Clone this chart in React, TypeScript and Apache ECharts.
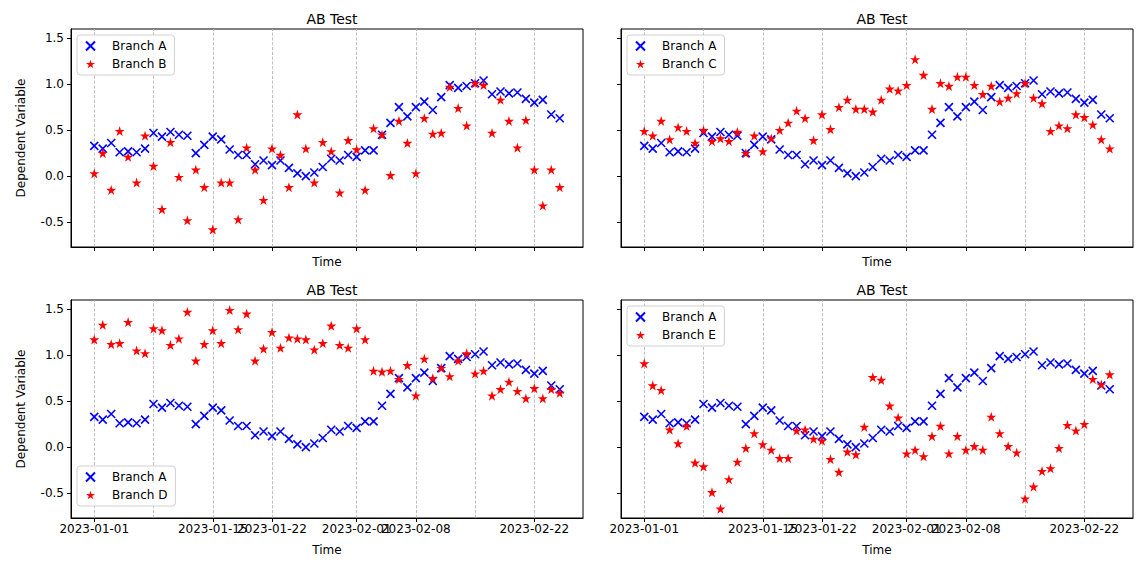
import { useEffect, useRef } from "react";
import * as echarts from "echarts";

const DAYS = Array.from({ length: 56 }, (_, i) => i); // 2023-01-01 .. 2023-02-25
const TICK_DAYS = [0, 7, 14, 21, 31, 38, 45, 52];
const TICK_LABELS = ["2023-01-01", "2023-01-08", "2023-01-15", "2023-01-22", "2023-02-01", "2023-02-08", "2023-02-15", "2023-02-22"];
const Y_TICKS = [-0.5, 0, 0.5, 1, 1.5];

const branchA = [0.33, 0.30, 0.36, 0.26, 0.27, 0.26, 0.30, 0.47, 0.43, 0.48, 0.45, 0.44, 0.25, 0.34, 0.43, 0.40, 0.29, 0.23, 0.23, 0.13, 0.17, 0.12, 0.17, 0.09, 0.03, 0.00, 0.04, 0.10,
  0.19, 0.17, 0.23, 0.21, 0.28, 0.28, 0.45, 0.58, 0.75, 0.65, 0.75, 0.81, 0.72, 0.86, 0.99, 0.96, 0.98, 1.01, 1.04, 0.89, 0.92, 0.90, 0.91, 0.84, 0.80, 0.83, 0.67, 0.63];
const branchB = [0.03, 0.25, -0.15, 0.49, 0.21, -0.07, 0.44, 0.11, -0.36, 0.37, -0.01, -0.48, 0.07, -0.12, -0.58, -0.07, -0.07, -0.47, 0.31, 0.07, -0.26, 0.30, 0.23, -0.12, 0.67, 0.30, -0.07, 0.37,
  0.27, -0.18, 0.39, 0.29, -0.15, 0.52, 0.45, 0.01, 0.60, 0.36, 0.03, 0.63, 0.46, 0.47, 0.97, 0.74, 0.55, 1.01, 0.99, 0.47, 0.83, 0.60, 0.31, 0.61, 0.07, -0.32, 0.07, -0.12];
const branchC = [0.49, 0.44, 0.60, 0.40, 0.53, 0.49, 0.36, 0.50, 0.38, 0.41, 0.38, 0.48, 0.25, 0.44, 0.27, 0.41, 0.50, 0.58, 0.71, 0.63, 0.39, 0.67, 0.51, 0.75, 0.83, 0.73, 0.73, 0.70,
  0.83, 0.95, 0.93, 0.99, 1.27, 1.10, 0.73, 1.01, 0.98, 1.08, 1.08, 0.99, 0.89, 0.98, 0.81, 0.85, 0.90, 1.01, 0.85, 0.79, 0.49, 0.55, 0.52, 0.67, 0.64, 0.56, 0.40, 0.30];
const branchD = [1.17, 1.33, 1.12, 1.13, 1.36, 1.05, 1.02, 1.29, 1.27, 1.11, 1.18, 1.47, 0.94, 1.12, 1.27, 1.13, 1.49, 1.28, 1.45, 0.94, 1.07, 1.25, 1.08, 1.19, 1.18, 1.17, 1.06, 1.13,
  1.32, 1.11, 1.08, 1.29, 1.17, 0.83, 0.82, 0.83, 0.74, 0.89, 0.56, 0.96, 0.75, 0.86, 0.77, 0.94, 1.02, 0.80, 0.83, 0.56, 0.63, 0.71, 0.61, 0.53, 0.64, 0.53, 0.63, 0.59];
const branchE = [0.91, 0.67, 0.62, 0.19, 0.04, 0.23, -0.17, -0.21, -0.49, -0.67, -0.35, -0.16, -0.01, 0.15, 0.03, -0.03, -0.12, -0.12, 0.18, 0.19, 0.09, 0.07, -0.13, -0.27, -0.05, -0.08, 0.22, 0.76,
  0.73, 0.45, 0.32, -0.07, -0.03, -0.10, 0.12, 0.23, -0.07, 0.12, -0.03, 0.01, -0.03, 0.33, 0.15, 0.01, -0.06, -0.56, -0.43, -0.26, -0.23, -0.01, 0.24, 0.18, 0.25, 0.74, 0.68, 0.79];

const PANELS = [
  { name: "Branch B", data: branchB, left: 71, top: 29, legendBottom: false, showX: false, showY: true },
  { name: "Branch C", data: branchC, left: 621, top: 29, legendBottom: false, showX: false, showY: false },
  { name: "Branch D", data: branchD, left: 71, top: 300, legendBottom: true, showX: true, showY: true },
  { name: "Branch E", data: branchE, left: 621, top: 300, legendBottom: false, showX: true, showY: false },
];

const W = 512;
const H = 218;
const FONT = "DejaVu Sans";
const X_SYMBOL = "path://M0,0L10,10M10,0L0,10";
const STAR = "path://M50,0L61.2,34.5L97.6,34.5L68.2,55.9L79.4,90.5L50,69.1L20.6,90.5L31.8,55.9L2.4,34.5L38.8,34.5Z";

export default function App() {
  const ref = useRef<HTMLDivElement>(null);

  useEffect(() => {
    if (!ref.current) return;
    const chart = echarts.init(ref.current, null, { renderer: "svg" });
    const pair = (arr: number[]) => DAYS.map((d, i) => [d, arr[i]]);

    chart.setOption({
      animation: false,
      textStyle: { fontFamily: FONT },
      title: PANELS.map((p) => ({
        text: "AB Test",
        left: p.left + W / 2,
        top: p.top - 22,
        textAlign: "center",
        textStyle: { fontFamily: FONT, fontSize: 14, fontWeight: "normal", color: "#000" },
      })),
      legend: PANELS.map((p, i) => ({
        id: "lg" + i,
        data: ["Branch A", p.name].map((n) => ({ name: n })),
        left: p.left + 6,
        ...(p.legendBottom ? { top: p.top + H - 52 } : { top: p.top + 6 }),
        orient: "vertical",
        itemGap: 6,
        itemWidth: 9,
        itemHeight: 9,
        padding: [5, 8, 5, 8],
        borderColor: "#d0d0d0",
        borderWidth: 1,
        borderRadius: 3,
        backgroundColor: "rgba(255,255,255,0.8)",
        textStyle: { fontFamily: FONT, fontSize: 12, color: "#000", padding: [0, 0, 0, 12] },
        selectedMode: false,
      })),
      grid: PANELS.map((p) => ({
        left: p.left, top: p.top, width: W, height: H,
        show: true, borderColor: "#000", borderWidth: 1, backgroundColor: "transparent",
      })),
      xAxis: PANELS.map((p, i) => ({
        type: "value",
        gridIndex: i,
        min: -2.75,
        max: 57.75,
        name: "Time",
        nameLocation: "middle",
        nameGap: p.showX ? 26 : 9,
        nameTextStyle: { fontFamily: FONT, fontSize: 12, color: "#000" },
        axisLine: { show: true, onZero: false, lineStyle: { color: "#000" } },
        axisTick: { show: true, length: 4, lineStyle: { color: "#000" }, customValues: TICK_DAYS },
        axisLabel: {
          show: p.showX,
          customValues: TICK_DAYS,
          showMinLabel: true,
          showMaxLabel: true,
          hideOverlap: false,
          color: "#000",
          fontSize: 12,
          fontFamily: FONT,
          margin: 5,
          formatter: (v: number) => TICK_LABELS[TICK_DAYS.indexOf(Math.round(v))] ?? "",
        },
        splitLine: { show: false },
      })),
      yAxis: PANELS.map((p, i) => ({
        type: "value",
        gridIndex: i,
        min: -0.77,
        max: 1.6,
        name: p.showY ? "Dependent Variable" : "",
        nameLocation: "middle",
        nameGap: 44,
        nameTextStyle: { fontFamily: FONT, fontSize: 12, color: "#000" },
        axisLine: { show: true, onZero: false, lineStyle: { color: "#000" } },
        axisTick: { show: true, length: 4, lineStyle: { color: "#000" }, customValues: Y_TICKS },
        axisLabel: {
          show: p.showY,
          customValues: Y_TICKS,
          showMinLabel: true,
          showMaxLabel: true,
          color: "#000",
          fontSize: 12,
          fontFamily: FONT,
          margin: 7,
          formatter: (v: number) => v.toFixed(1),
        },
        splitLine: { show: false },
      })),
      series: PANELS.flatMap((p, i) => [
        {
          name: "Branch A",
          type: "scatter",
          xAxisIndex: i,
          yAxisIndex: i,
          data: pair(branchA),
          symbol: X_SYMBOL,
          symbolSize: 8,
          itemStyle: { color: "transparent", borderColor: "#0000ff", borderWidth: 1.6, opacity: 1 },
          z: 3,
          markLine: {
            symbol: "none",
            silent: true,
            animation: false,
            label: { show: false },
            lineStyle: { color: "#b0b0b0", type: "dashed", width: 0.8 },
            data: TICK_DAYS.map((d) => ({ xAxis: d })),
            z: 1,
          },
        },
        {
          name: p.name,
          type: "scatter",
          xAxisIndex: i,
          yAxisIndex: i,
          data: pair(p.data),
          symbol: STAR,
          symbolSize: 10,
          itemStyle: { color: "#ff0000", opacity: 1 },
          z: 4,
        },
      ]),
    });

    return () => chart.dispose();
  }, []);

  return <div ref={ref} style={{ position: "fixed", left: 0, top: 0, width: 1142, height: 566, background: "#fff" }} />;
}
